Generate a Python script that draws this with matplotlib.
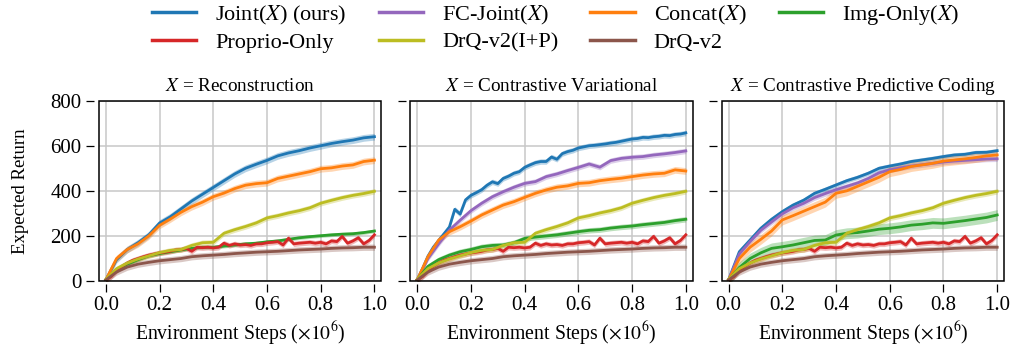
import numpy as np
import matplotlib
matplotlib.use('Agg')
import matplotlib.pyplot as plt
from matplotlib.lines import Line2D
from matplotlib.patches import Rectangle

plt.rcParams['font.family'] = 'serif'
plt.rcParams['font.serif'] = ['Liberation Serif', 'DejaVu Serif']
plt.rcParams['mathtext.fontset'] = 'stix'

# environment steps (x1e6)
steps = np.round(np.arange(0, 1.0001, 0.04), 2)
steps_fine = np.round(np.arange(0, 1.0001, 0.02), 2)

# baselines, same in all panels
drq_ip = [8, 55, 80, 98, 112, 126, 136, 140, 158, 170, 172, 212, 228,
          242, 258, 280, 290, 302, 312, 325, 345, 358, 370, 380, 388, 398]
drq = [5, 40, 62, 75, 83, 90, 95, 100, 108, 112, 115, 118, 122,
       125, 128, 130, 132, 135, 138, 140, 142, 145, 147, 148, 150, 150]
proprio = [5, 20, 45, 65, 80, 92, 100, 108, 115, 120, 125, 128, 132, 138, 140,
           145, 132, 150, 148, 150, 147, 150, 168, 158, 165, 160, 162, 158, 165,
           165, 170, 172, 175, 160, 190, 165, 168, 170, 172, 168, 172, 165, 178,
           175, 198, 168, 178, 192, 165, 180, 205]

# X = Reconstruction
rec_joint = [5, 95, 140, 170, 205, 257, 285, 320, 355, 385, 415, 445, 475,
             500, 518, 535, 555, 568, 578, 590, 600, 610, 618, 625, 635, 640]
rec_concat = [5, 100, 140, 165, 200, 247, 275, 305, 330, 350, 374, 390, 410,
              425, 432, 436, 455, 465, 475, 485, 498, 502, 510, 515, 530, 536]
rec_img = [5, 50, 75, 95, 112, 122, 130, 138, 145, 150, 150, 155, 160,
           165, 168, 174, 178, 185, 192, 197, 201, 205, 208, 210, 215, 222]

# X = Contrastive Variational (joint read at finer steps)
cv_joint = [5, 55, 110, 150, 180, 210, 240, 318, 297, 360, 380, 392, 405,
            425, 440, 432, 455, 465, 478, 485, 504, 515, 525, 530, 530, 550,
            540, 565, 574, 580, 590, 595, 600, 602, 605, 608, 612, 615, 620,
            625, 630, 632, 637, 636, 640, 642, 646, 645, 650, 652, 657]
cv_fc = [5, 100, 165, 226, 270, 312, 345, 374, 396, 416, 433, 441, 463,
         475, 490, 504, 519, 505, 534, 544, 549, 552, 559, 564, 570, 577]
cv_concat = [5, 108, 182, 219, 241, 266, 293, 315, 337, 352, 371, 389, 404,
             416, 422, 433, 436, 445, 451, 456, 463, 470, 475, 478, 493, 488]
cv_img = [5, 65, 95, 115, 130, 140, 152, 158, 160, 170, 189, 195, 200,
          205, 212, 219, 225, 228, 235, 240, 244, 250, 255, 260, 268, 274]

# X = Contrastive Predictive Coding
cpc_joint = [5, 130, 182, 234, 274, 308, 337, 359, 389, 407, 426, 445, 460,
             478, 500, 510, 519, 530, 537, 544, 552, 559, 562, 570, 571, 578]
cpc_fc = [5, 120, 175, 225, 262, 298, 325, 345, 370, 388, 405, 420, 435,
          455, 480, 493, 502, 510, 516, 522, 528, 532, 535, 538, 541, 542]
cpc_concat = [5, 100, 150, 185, 222, 271, 290, 310, 330, 350, 389, 400, 420,
              440, 460, 485, 495, 508, 515, 522, 532, 537, 542, 548, 555, 559]
cpc_img = [5, 60, 100, 125, 145, 152, 160, 170, 180, 182, 204, 212, 215,
           222, 230, 234, 240, 248, 252, 258, 256, 262, 268, 275, 282, 293]

titles = ['$X$ = Reconstruction', '$X$ = Contrastive Variational',
          '$X$ = Contrastive Predictive Coding']
labels = ['Joint($X$) (ours)', 'FC-Joint($X$)', 'Concat($X$)', 'Img-Only($X$)',
          'Proprio-Only', 'DrQ-v2(I+P)', 'DrQ-v2']
colors = ['#1f77b4', '#9467bd', '#ff7f0e', '#2ca02c', '#d62728', '#bcbd22', '#8c564b']
# legend fills column by column: two rows, four columns
legend_order = [0, 4, 1, 5, 2, 6, 3]

panels = [
    [rec_joint, None, rec_concat, rec_img, proprio, drq_ip, drq],
    [cv_joint, cv_fc, cv_concat, cv_img, proprio, drq_ip, drq],
    [cpc_joint, cpc_fc, cpc_concat, cpc_img, proprio, drq_ip, drq],
]
spreads = [
    [15, 0, 15, 8, 12, 12, 14],
    [12, 12, 15, 12, 12, 12, 14],
    [10, 12, 22, 24, 12, 12, 14],
]

fig = plt.figure(figsize=(10.11, 3.47), dpi=100)
lefts = [0.098, 0.406, 0.714]

for p in range(3):
    ax = fig.add_axes([lefts[p], 0.190, 0.279, 0.520])
    for k in range(len(labels)):
        vals = panels[p][k]
        if vals is None:
            continue
        y = np.array(vals, dtype=float)
        x = steps_fine if len(y) == len(steps_fine) else steps
        s = spreads[p][k]
        ax.fill_between(x, y - s, y + s, color=colors[k], alpha=0.32, lw=0)
        ax.plot(x, y, color=colors[k], lw=2.0)

    ax.set_xlim(-0.025, 1.025)
    ax.set_ylim(0, 800)
    ax.set_xticks([0, 0.2, 0.4, 0.6, 0.8, 1.0])
    ax.set_yticks([0, 200, 400, 600, 800])
    ax.set_xticklabels(['0.0', '0.2', '0.4', '0.6', '0.8', '1.0'])
    if p > 0:
        ax.set_yticklabels([])
    else:
        ax.set_ylabel('Expected Return', fontsize=13.5)
        ax.yaxis.set_label_coords(-0.25, 0.5)
    ax.grid(True, color='#c8c8c8', lw=1.1)
    ax.set_axisbelow(True)
    ax.tick_params(labelsize=15, length=5.5, width=0.9, color='k')

    ax.spines['left'].set_position(('outward', 3.5))
    ax.spines['bottom'].set_position(('outward', 2))
    for side in ['left', 'bottom', 'top', 'right']:
        ax.spines[side].set_visible(False)
    ax.add_patch(Rectangle((0, 0), 1, 1, transform=ax.transAxes, fill=False,
                           ec='k', lw=1.1, clip_on=False, zorder=5))

    ax.set_title(titles[p], fontsize=13.8, pad=7)
    ax.set_xlabel(r'Environment Steps ($\times 10^6$)', fontsize=14.2, labelpad=3)

handles = [Line2D([], [], color=colors[k], lw=2.5) for k in legend_order]
names = [labels[k] for k in legend_order]
fig.legend(handles, names, loc='upper left', bbox_to_anchor=(0.150, 0.991),
           ncol=4, frameon=False, fontsize=16, handlelength=2.0,
           handletextpad=0.85, columnspacing=1.45, labelspacing=0.26,
           borderpad=0, borderaxespad=0)

fig.savefig('out.png', dpi=100)
